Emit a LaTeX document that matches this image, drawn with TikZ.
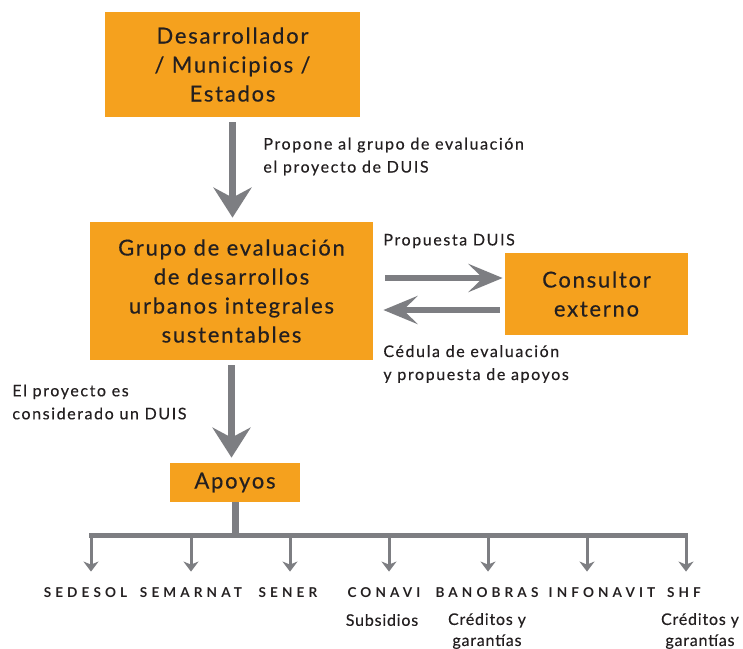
\documentclass[tikz,border=0pt]{standalone}
\usepackage{fontspec}
\setmainfont{Lato}
\usetikzlibrary{arrows.meta, positioning, calc}
\definecolor{orangeduis}{RGB}{245,161,30}
\definecolor{grayarrow}{RGB}{125,126,130}
\definecolor{textduis}{RGB}{35,31,32}

\begin{document}
\begin{tikzpicture}[
    x=0.5pt, y=-0.5pt,
    block/.style={rectangle, fill=orangeduis, align=center, text=textduis, font=\fontsize{11}{14.5}\selectfont\addfontfeature{LetterSpace=8, FakeBold=0.4}, inner sep=0pt},
    arrow/.style={-{Stealth[length=15pt, width=19pt, inset=5pt]}, line width=3.5pt, draw=grayarrow},
    sidearrow/.style={-{Stealth[length=17pt, width=14pt, inset=7pt]}, line width=3.2pt, draw=grayarrow},
    smallarrow/.style={-{Stealth[length=5pt, width=7.5pt, inset=1.5pt]}, line width=1.5pt, draw=grayarrow},
    note/.style={align=left, text=textduis, font=\fontsize{8}{11.5}\selectfont\addfontfeature{LetterSpace=10, FakeBold=0.3}, inner sep=0pt},
    agency/.style={text=textduis, font=\fontsize{6.8}{7}\selectfont\bfseries\addfontfeature{LetterSpace=30}, inner sep=0pt},
    support/.style={align=center, text=textduis, font=\fontsize{8}{10.5}\selectfont\addfontfeature{LetterSpace=5, FakeBold=0.3}, inner sep=0pt}
]
\path[use as bounding box, fill=white] (0,0) rectangle (743,648);

% main boxes
\node[block, minimum width=127.5pt, minimum height=52.5pt] (desarrollador) at (232.5,64.5) {Desarrollador\\ / Municipios /\\ Estados};
\node[block, minimum width=141.5pt, minimum height=69pt] (grupo) at (231.5,291) {Grupo de evaluación\\ de desarrollos\\ urbanos integrales\\ sustentables};
\node[block, minimum width=91.5pt, minimum height=41pt] (consultor) at (596.5,294) {Consultor\\ externo};
\node[block, minimum width=65pt, minimum height=19.5pt] (apoyos) at (235,482.5) {Apoyos};

% labels
\node[note, anchor=west] (propone) at (263,156.5) {Propone al grupo de evaluación\\ el proyecto de DUIS};
\node[note, anchor=west] (propuesta) at (383,241) {Propuesta DUIS};
\node[note, anchor=west] (cedula) at (383,364) {Cédula de evaluación\\ y propuesta de apoyos};
\node[note, anchor=west] (considerado) at (12,402) {El proyecto es\\ considerado un DUIS};

% flow
\draw[arrow, shorten <=2.5pt, shorten >=2pt] (desarrollador.south) -- (desarrollador.south |- grupo.north);
\draw[arrow, shorten <=2.5pt, shorten >=2.5pt] (grupo.south) -- (grupo.south |- apoyos.north);
\draw[sidearrow, shorten <=6pt, shorten >=1pt] ([yshift=8pt]consultor.west -| grupo.east) -- ([yshift=8pt]consultor.west);
\draw[sidearrow, shorten <=2.5pt, shorten >=5pt] ([yshift=-8pt]consultor.west) -- ([yshift=-8pt]consultor.west -| grupo.east);

% distribution bar
\coordinate (barl) at (89,535);
\coordinate (barr) at (688,535);
\draw[grayarrow, line width=3.5pt] (apoyos.south) -- (apoyos.south |- barl);
\draw[grayarrow, line width=2.5pt] (barl) -- (barr);

% agencies
\node[agency] (sedesol) at (85.5,593) {SEDESOL};
\node[agency] (semarnat) at (191,593) {SEMARNAT};
\node[agency] (sener) at (288,593) {SENER};
\node[agency] (conavi) at (384,593) {CONAVI};
\node[agency] (banobras) at (487,593) {BANOBRAS};
\node[agency] (infonavit) at (602,593) {INFONAVIT};
\node[agency] (shf) at (684,593) {SHF};

\coordinate (t1) at (91,535);
\coordinate (t2) at (191,535);
\coordinate (t3) at (290,535);
\coordinate (t4) at (389,535);
\coordinate (t5) at (488,535);
\coordinate (t6) at (587,535);
\coordinate (t7) at (686,535);

\draw[smallarrow, shorten >=8pt] (t1) -- (t1 |- sedesol.north);
\draw[smallarrow, shorten >=8pt] (t2) -- (t2 |- semarnat.north);
\draw[smallarrow, shorten >=8pt] (t3) -- (t3 |- sener.north);
\draw[smallarrow, shorten >=8pt] (t4) -- (t4 |- conavi.north);
\draw[smallarrow, shorten >=8pt] (t5) -- (t5 |- banobras.north);
\draw[smallarrow, shorten >=8pt] (t6) -- (t6 |- infonavit.north);
\draw[smallarrow, shorten >=8pt] (t7) -- (t7 |- shf.north);

\node[support] (subsidios) at (382,620) {Subsidios};
\node[support] (creditos) at (487,631) {Créditos y\\ garantías};
\node[support] (creditosshf) at (700,631) {Créditos y\\ garantías};

\end{tikzpicture}
\end{document}
